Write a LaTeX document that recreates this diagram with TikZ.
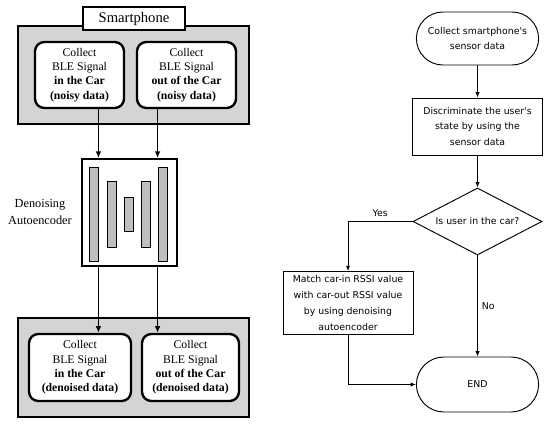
\documentclass[tikz,border=0pt]{standalone}
\usepackage{fontspec}
\setmainfont{Liberation Serif}
\newfontfamily\flowfont{DejaVu Sans}
\usetikzlibrary{positioning,arrows.meta,shapes.geometric,shapes.misc}
\tikzset{
  flowarrow/.style={-{Latex[length=2mm,width=1.7mm]}, line width=1.5pt},
  thinarrow/.style={-{Latex[length=1.6mm,width=1.3mm]}, line width=0.8pt},
  panel/.style={draw, line width=1.7pt, fill=black!17, minimum width=6.93cm},
  titlebox/.style={draw, line width=1.7pt, fill=white, minimum width=3.06cm, minimum height=0.69cm, font=\fontsize{12.5}{14}\selectfont},
  sigbox/.style={draw, rounded corners=8pt, line width=2pt, fill=white, minimum height=1.98cm, align=center, inner sep=1pt, font=\fontsize{10}{12.2}\selectfont},
  aebox/.style={draw, line width=1.7pt, fill=white, minimum width=2.85cm, minimum height=3.21cm},
  bar/.style={draw, fill=black!25, line width=0.7pt, minimum width=0.27cm, inner sep=0pt},
  flowtext/.style={font=\flowfont\fontsize{8}{13.6}\selectfont, align=center},
  terminal/.style={flowtext, draw, rounded rectangle, line width=0.8pt, minimum width=3.9cm},
  procbox/.style={flowtext, draw, rectangle, line width=0.8pt, minimum width=3.9cm},
  decision/.style={flowtext, draw, diamond, aspect=2, inner sep=0pt, line width=0.8pt, minimum width=3.87cm, minimum height=2.01cm}
}
\begin{document}
\begin{tikzpicture}[x=0.03cm, y=-0.03cm]
  \useasboundingbox (0,0) rectangle (550,424);
  % smartphone side
  \node[panel, minimum height=2.94cm] (top) at (133.5,75) {};
  \node[titlebox] (phone) at (134,18.5) {Smartphone};
  \node[sigbox, minimum width=2.67cm] (inA) at (79.5,75) {Collect\\BLE Signal\\\textbf{in the Car}\\\textbf{(noisy data)}};
  \node[sigbox, minimum width=2.97cm] (outA) at (186.5,75) {Collect\\BLE Signal\\\textbf{out of the Car}\\\textbf{(noisy data)}};
  \node[aebox] (ae) at (129.5,212.5) {};
  \foreach \x/\h [count=\i] in {93.5/2.82, 111.5/1.98, 128.5/1.02, 145.5/1.98, 162.5/2.82}
    \node[bar, minimum height=\h cm] (b\i) at (\x,214) {};
  \node[align=center, font=\fontsize{10.5}{15}\selectfont] (dae) at (40,212) {Denoising\\Autoencoder};
  \node[panel, minimum height=2.97cm] (bot) at (133.5,367.5) {};
  \node[sigbox, minimum width=3.06cm, minimum height=2.01cm] (inB) at (80,367.5) {Collect\\BLE Signal\\\textbf{in the Car}\\\textbf{(denoised data)}};
  \node[sigbox, minimum width=2.91cm, minimum height=2.01cm] (outB) at (190.5,367.5) {Collect\\BLE Signal\\\textbf{out of the Car}\\\textbf{(denoised data)}};
  \draw[flowarrow] (inA.south -| b1.east) -- (ae.north -| b1.east);
  \draw[flowarrow] (outA.south -| b5.west) -- (ae.north -| b5.west);
  \draw[flowarrow] (ae.south -| b1.east) -- (inB.north -| b1.east);
  \draw[flowarrow] (ae.south -| b5.west) -- (outB.north -| b5.west);
  % flow chart
  \node[terminal, minimum height=1.59cm] (start) at (477.5,38.5) {Collect smartphone's\\sensor data};
  \node[procbox, minimum height=1.71cm] (state) at (477.5,126.5) {Discriminate the user's\\state by using the\\sensor data};
  \node[decision] (incar) at (477.5,221.5) {Is user in the car?};
  \node[procbox, minimum height=1.86cm] (match) at (348,303) {Match car-in RSSI value\\with car-out RSSI value\\by using denoising\\autoencoder};
  \node[terminal, minimum height=1.65cm] (end) at (477.5,384.5) {END};
  \draw[thinarrow] (start) -- (state);
  \draw[thinarrow] (state) -- (incar);
  \draw[thinarrow] (incar.west) -| node[above, pos=0.25, flowtext] {Yes} (match.north);
  \draw[thinarrow] (incar.south) -- node[right, flowtext] {No} (end.north);
  \draw[thinarrow] (match.south) |- (end.west);
\end{tikzpicture}
\end{document}
